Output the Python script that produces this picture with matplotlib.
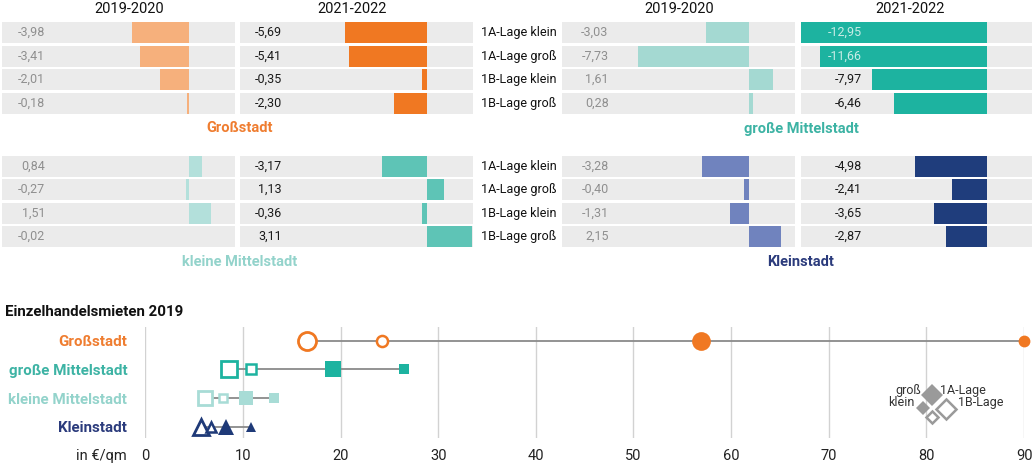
import matplotlib
matplotlib.use("Agg")
import matplotlib.pyplot as plt

plt.rcParams['font.family'] = ['Roboto', 'DejaVu Sans']

# ---------------- data ----------------
categories = ["1A-Lage klein", "1A-Lage groß", "1B-Lage klein", "1B-Lage groß"]
periods = ["2019-2020", "2021-2022"]

gross_1920 = [-3.98, -3.41, -2.01, -0.18]
gross_2122 = [-5.69, -5.41, -0.35, -2.30]
gm_1920 = [-3.03, -7.73, 1.61, 0.28]
gm_2122 = [-12.95, -11.66, -7.97, -6.46]
km_1920 = [0.84, -0.27, 1.51, -0.02]
km_2122 = [-3.17, 1.13, -0.36, 3.11]
ks_1920 = [-3.28, -0.40, -1.31, 2.15]
ks_2122 = [-4.98, -2.41, -3.65, -2.87]

city_types = ["Großstadt", "große Mittelstadt", "kleine Mittelstadt", "Kleinstadt"]
# Einzelhandelsmieten 2019 in €/qm
rent_1a_klein = [90.0, 26.5, 13.15, 10.85]
rent_1a_gross = [56.9, 19.2, 10.35, 8.3]
rent_1b_klein = [24.2, 10.8, 8.0, 6.75]
rent_1b_gross = [16.6, 8.6, 6.1, 5.7]
x_ticks = [0, 10, 20, 30, 40, 50, 60, 70, 80, 90]

# ---------------- style ----------------
col_light = {"Großstadt": "#f6b07c", "große Mittelstadt": "#a4d9d2",
             "kleine Mittelstadt": "#b3e0db", "Kleinstadt": "#7083be"}
col_dark = {"Großstadt": "#f07822", "große Mittelstadt": "#1db3a0",
            "kleine Mittelstadt": "#5ec4b6", "Kleinstadt": "#1f3d7c"}
col_label = {"Großstadt": "#ef7d30", "große Mittelstadt": "#3db3a4",
             "kleine Mittelstadt": "#93d3cb", "Kleinstadt": "#2b3b7c"}
dot_col = {"Großstadt": "#f07822", "große Mittelstadt": "#1db3a0",
           "kleine Mittelstadt": "#a8dcd6", "Kleinstadt": "#1f3a78"}
dot_marker = {"Großstadt": "o", "große Mittelstadt": "s",
              "kleine Mittelstadt": "s", "Kleinstadt": "^"}
size_big = {"Großstadt": 13, "große Mittelstadt": 11, "kleine Mittelstadt": 10, "Kleinstadt": 11.5}
size_small = {"Großstadt": 8, "große Mittelstadt": 7, "kleine Mittelstadt": 6, "Kleinstadt": 7}

W, H = 1034, 465
fig = plt.figure(figsize=(W / 100, H / 100), dpi=100)


def px_axes(x0, y0, x1, y1):
    return fig.add_axes([x0 / W, 1 - y1 / H, (x1 - x0) / W, (y1 - y0) / H])


def fx(x):
    return x / W


def fy(y):
    return 1 - y / H


XLIM = (-12.95, 3.15)
BG = "#ebebeb"


def bar_panel(box, vals, color, label_frac, txt_color, light_txt=None):
    ax = px_axes(*box)
    ax.set_xlim(*XLIM)
    ax.set_ylim(3.5, -0.5)
    ax.axis("off")
    for i in range(len(vals)):
        ax.axhspan(i - 0.45, i + 0.45, color=BG, zorder=0, lw=0)
    ax.barh(range(len(vals)), vals, height=0.9, color=color, zorder=2, lw=0)
    lab_x = XLIM[0] + label_frac * (XLIM[1] - XLIM[0])
    for i, v in enumerate(vals):
        c = txt_color
        if light_txt is not None and v < lab_x:
            c = light_txt
        ax.text(lab_x, i, f"{v:.2f}".replace(".", ","), ha="right", va="center",
                fontsize=9, color=c, zorder=3)
    return ax


cols = [(2, 235), (240, 473), (562, 795), (801, 1032)]
rows_y = [(21, 115), (154.5, 248.5)]
layout = [
    ("Großstadt", gross_1920, gross_2122, 0, 0),
    ("große Mittelstadt", gm_1920, gm_2122, 0, 1),
    ("kleine Mittelstadt", km_1920, km_2122, 1, 0),
    ("Kleinstadt", ks_1920, ks_2122, 1, 1),
]
label_fracs = [0.185, 0.18, 0.20, 0.264]

for name, v1, v2, r, side in layout:
    y0, y1 = rows_y[r]
    c1 = cols[2 * side]
    c2 = cols[2 * side + 1]
    bar_panel((c1[0], y0, c1[1], y1), v1, col_light[name], label_fracs[2 * side], "#8f8f8f")
    bar_panel((c2[0], y0, c2[1], y1), v2, col_dark[name], label_fracs[2 * side + 1], "#1a1a1a",
              light_txt="#c9ece6")
    gx = (c1[1] + c2[0]) / 2 + (2 if side == 0 else 3)
    gy = y1 + 13.5
    fig.text(fx(gx), fy(gy), name, ha="center", va="center", fontsize=10.5,
             fontweight="bold", color=col_label[name])
    if side == 0:
        for i, cat in enumerate(categories):
            cy = y0 + (y1 - y0) * (i + 0.5) / 4
            fig.text(fx(481), fy(cy), cat, ha="left", va="center", fontsize=9.1, color="#111111")

for cx, t in zip([129, 352, 679, 910], periods * 2):
    fig.text(fx(cx), fy(9), t, ha="center", va="center", fontsize=10.5, color="#111111")

# ---------------- dot chart ----------------
ax = px_axes(145.3, 327, 1024, 438)
ax.set_xlim(0, 90)
ax.set_ylim(-0.394, 3.478)
for s in ax.spines.values():
    s.set_visible(False)
ax.set_xticks(x_ticks)
ax.grid(axis="x", color="#d2d2d2", lw=1)
ax.set_axisbelow(True)
ax.tick_params(axis="x", length=0, pad=8, labelsize=10.5, labelcolor="#222222")
ypos = [3 - i for i in range(len(city_types))]
ax.set_yticks(ypos)
ax.set_yticklabels(city_types)
ax.tick_params(axis="y", length=0, pad=13)
for lab, name in zip(ax.get_yticklabels(), city_types):
    lab.set_color(col_label[name])
    lab.set_fontweight("bold")
    lab.set_fontsize(10.9)

for i, name in enumerate(city_types):
    y = ypos[i]
    vals = [rent_1b_gross[i], rent_1b_klein[i], rent_1a_gross[i], rent_1a_klein[i]]
    ax.plot([min(vals), max(vals)], [y, y], color="#8a8a8a", lw=1.3, zorder=2, clip_on=False)
    c = dot_col[name]
    m = dot_marker[name]
    ax.plot(rent_1b_gross[i], y, marker=m, ms=size_big[name], mfc="white", mec=c, mew=2,
            zorder=3, clip_on=False, ls="none")
    ax.plot(rent_1b_klein[i], y, marker=m, ms=size_small[name], mfc="white", mec=c, mew=1.8,
            zorder=3, clip_on=False, ls="none")
    ax.plot(rent_1a_gross[i], y, marker=m, ms=size_big[name] + 0.5, mfc=c, mec=c, mew=0,
            zorder=3, clip_on=False, ls="none")
    ax.plot(rent_1a_klein[i], y, marker=m, ms=size_small[name] + 0.5, mfc=c, mec=c, mew=0,
            zorder=3, clip_on=False, ls="none")

# legend (layout positions)
lg = "#9a9a9a"
ax.plot(80.53, 1.106, marker="D", ms=11.2, mfc=lg, mec=lg, mew=0, clip_on=False, zorder=4)
ax.plot(79.61, 0.642, marker="D", ms=6.8, mfc=lg, mec=lg, mew=0, clip_on=False, zorder=4)
ax.plot(81.97, 0.617, marker="D", ms=10.6, mfc="white", mec=lg, mew=1.8, clip_on=False, zorder=4)
ax.plot(80.6, 0.328, marker="D", ms=6.3, mfc="white", mec=lg, mew=1.8, clip_on=False, zorder=4)
ax.text(79.5, 1.28, "groß", ha="right", va="center", fontsize=9, color="#333333")
ax.text(78.75, 0.837, "klein", ha="right", va="center", fontsize=9, color="#333333")
ax.text(81.4, 1.28, "1A-Lage", ha="left", va="center", fontsize=9, color="#333333")
ax.text(83.2, 0.837, "1B-Lage", ha="left", va="center", fontsize=9, color="#333333")

fig.text(fx(127), fy(456), "in €/qm", ha="right", va="center", fontsize=10.5, color="#222222")
fig.text(fx(5), fy(312), "Einzelhandelsmieten 2019", ha="left", va="center", fontsize=10.8,
         fontweight="bold", color="#111111")

fig.savefig("out.png", dpi=100, facecolor="white")
